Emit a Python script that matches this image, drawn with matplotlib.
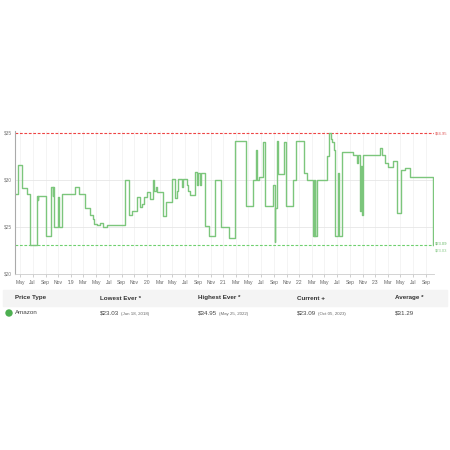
import pandas as pd
import matplotlib.pyplot as plt
from matplotlib.patches import Rectangle

plt.rcParams['font.family'] = ['Liberation Sans', 'DejaVu Sans']

# amazon price history (step changes)
dates = [
    "2018-04-11", "2018-04-22", "2018-05-09", "2018-06-02", "2018-06-18",
    "2018-07-23", "2018-07-26", "2018-07-28", "2018-09-02", "2018-09-25",
    "2018-09-28", "2018-10-05", "2018-10-07", "2018-10-13", "2018-11-01",
    "2018-11-03", "2018-11-20", "2019-01-20", "2019-02-10", "2019-03-09",
    "2019-04-02", "2019-04-14", "2019-04-21", "2019-05-04", "2019-05-20",
    "2019-06-03", "2019-06-21", "2019-09-17", "2019-10-08", "2019-10-19",
    "2019-11-12", "2019-11-28", "2019-12-08", "2019-12-17", "2019-12-30",
    "2020-01-15", "2020-01-31", "2020-02-05", "2020-02-13", "2020-02-17",
    "2020-03-19", "2020-04-01", "2020-04-28", "2020-05-14", "2020-05-22",
    "2020-05-30", "2020-06-15", "2020-06-23", "2020-07-09", "2020-07-17",
    "2020-07-25", "2020-08-18", "2020-08-26", "2020-08-30", "2020-09-11",
    "2020-09-16", "2020-10-05", "2020-10-26", "2020-11-22", "2020-12-21",
    "2021-01-28", "2021-02-26", "2021-04-20", "2021-05-25", "2021-06-07",
    "2021-06-10", "2021-06-20", "2021-07-12", "2021-07-20", "2021-08-29",
    "2021-09-06", "2021-09-08", "2021-09-14", "2021-09-19", "2021-10-21",
    "2021-10-29", "2021-11-30", "2021-12-14", "2022-01-23", "2022-02-05",
    "2022-03-06", "2022-03-10", "2022-03-13", "2022-03-16", "2022-03-18",
    "2022-03-25", "2022-05-12", "2022-05-25", "2022-06-01", "2022-06-06",
    "2022-06-14", "2022-06-21", "2022-06-23", "2022-07-07", "2022-07-09",
    "2022-07-23", "2022-09-17", "2022-10-03", "2022-10-09", "2022-10-19",
    "2022-10-24", "2022-10-27", "2022-11-04", "2023-01-23", "2023-01-31",
    "2023-02-16", "2023-03-04", "2023-03-28", "2023-04-13", "2023-05-02",
    "2023-05-23", "2023-06-16", "2023-10-05", "2023-10-06",
]
prices = [
    28.55, 31.55, 29.1, 28.5, 23.03,
    28.3, 27.9, 28.3, 24.0, 28.3,
    29.2, 28.3, 29.2, 25.0, 28.15,
    25.0, 28.5, 29.2, 28.5, 27.0,
    26.3, 25.8, 25.3, 25.2, 25.4,
    25.0, 25.25, 30.0, 26.3, 26.7,
    28.2, 27.1, 27.4, 28.2, 28.7,
    28.0, 30.0, 28.8, 29.2, 28.7,
    26.2, 27.7, 30.1, 28.1, 28.8,
    30.1, 29.3, 30.1, 29.5, 28.8,
    28.4, 30.85, 29.5, 30.7, 29.5,
    30.7, 25.1, 24.0, 30.0, 25.0,
    23.8, 34.1, 27.2, 30.0, 33.2,
    30.0, 30.3, 34.0, 27.2, 29.5,
    23.4, 27.0, 34.1, 30.6, 34.0,
    27.2, 30.0, 34.1, 30.75, 30.0,
    24.0, 30.0, 24.0, 30.0, 24.0,
    30.0, 32.5, 34.95, 34.4, 34.0,
    33.2, 32.5, 24.0, 30.75, 24.0,
    33.0, 32.7, 31.8, 32.7, 26.7,
    31.5, 26.3, 32.7, 33.4, 32.7,
    31.8, 31.4, 32.0, 26.5, 31.1,
    31.3, 30.35, 23.09, 23.09,
]

lowest = 23.03
highest = 34.95
current = 23.09
average = 31.29

columns = ["Price Type", "Lowest Ever *", "Highest Ever *", "Current +", "Average *"]
row_main = ["Amazon", "$23.03", "$34.95", "$23.09", "$31.29"]
row_dates = ["", "(Jun 18, 2018)", "(May 25, 2022)", "(Oct 05, 2023)", ""]

dt = pd.to_datetime(dates)
ticks = pd.date_range("2018-05-01", "2023-09-01", freq="2MS")
tick_labels = ["'" + d.strftime("%y") if d.month == 1 else d.strftime("%b") for d in ticks]

fig = plt.figure(figsize=(4.5, 4.5), dpi=100)
ax = fig.add_axes([15 / 450, 1 - 274 / 450, (434 - 15) / 450, (274 - 131) / 450])

ax.set_xlim(pd.Timestamp("2018-04-07"), pd.Timestamp("2023-10-09"))
ax.set_ylim(20, 35.2)

for t in ticks:
    ax.axvline(t, color="#f2f2f2", lw=0.6, zorder=0)
for v in [25, 30]:
    ax.axhline(v, color="#e6e6e6", lw=0.6, zorder=0)

ax.axhline(highest, color="#ee4444", lw=0.8, ls=(0, (2.5, 1.5)))
ax.axhline(lowest, color="#6fd06f", lw=0.8, ls=(0, (2.5, 1.5)))

ax.step(dt, prices, where="post", color="#7cc67c", lw=1.0)

ax.set_yticks([20, 25, 30, 35])
ax.set_yticklabels(["$20", "$25", "$30", "$35"])
ax.set_xticks(ticks)
ax.set_xticklabels(tick_labels)
ax.tick_params(axis="y", length=0, pad=2.5, labelsize=3.4, labelcolor="#777777")
ax.tick_params(axis="x", length=2, width=0.5, color="#bbbbbb", pad=2,
               labelsize=3.6, labelcolor="#666666")

for s in ["top", "right"]:
    ax.spines[s].set_visible(False)
ax.spines["left"].set_color("#aaaaaa")
ax.spines["left"].set_linewidth(0.8)
ax.spines["bottom"].set_color("#cccccc")
ax.spines["bottom"].set_linewidth(0.6)

ytr = ax.get_yaxis_transform()
ax.annotate("$34.95", (1.0, highest), xycoords=ytr, xytext=(0.5, 0),
            textcoords="offset points", va="center", ha="left",
            fontsize=3.0, color="#e06060")
ax.annotate("$23.09", (1.0, lowest), xycoords=ytr, xytext=(0.5, 1.3),
            textcoords="offset points", va="center", ha="left",
            fontsize=3.0, color="#66b866")
ax.annotate("$23.03", (1.0, lowest), xycoords=ytr, xytext=(0.5, -3.6),
            textcoords="offset points", va="center", ha="left",
            fontsize=3.0, color="#8ccc8c")

# summary table below the chart
fig.patches.append(Rectangle((3 / 450, 1 - 306 / 450), 444 / 450, 16 / 450,
                             transform=fig.transFigure, color="#f4f4f4", zorder=0))
col_x = [15, 100, 198, 297, 395]
for x, name in zip(col_x, columns):
    fig.text(x / 450, 1 - 298 / 450, name, fontsize=4.5, fontweight="bold",
             color="#333333", va="center", ha="left")

fig.patches.append(plt.Circle((9 / 450, 1 - 313 / 450), 3 / 450,
                              transform=fig.transFigure, color="#4caf50"))
for x, main, sub in zip(col_x, row_main, row_dates):
    t = fig.text(x / 450, 1 - 313 / 450, main, fontsize=4.5, color="#444444",
                 va="center", ha="left")
    if sub:
        fig.canvas.draw()
        bb = t.get_window_extent()
        fig.text((bb.x1 + 2) / 450, 1 - 313.5 / 450, sub, fontsize=3.2,
                 color="#666666", va="center", ha="left")

fig.savefig("out.png", dpi=100, facecolor="white")
